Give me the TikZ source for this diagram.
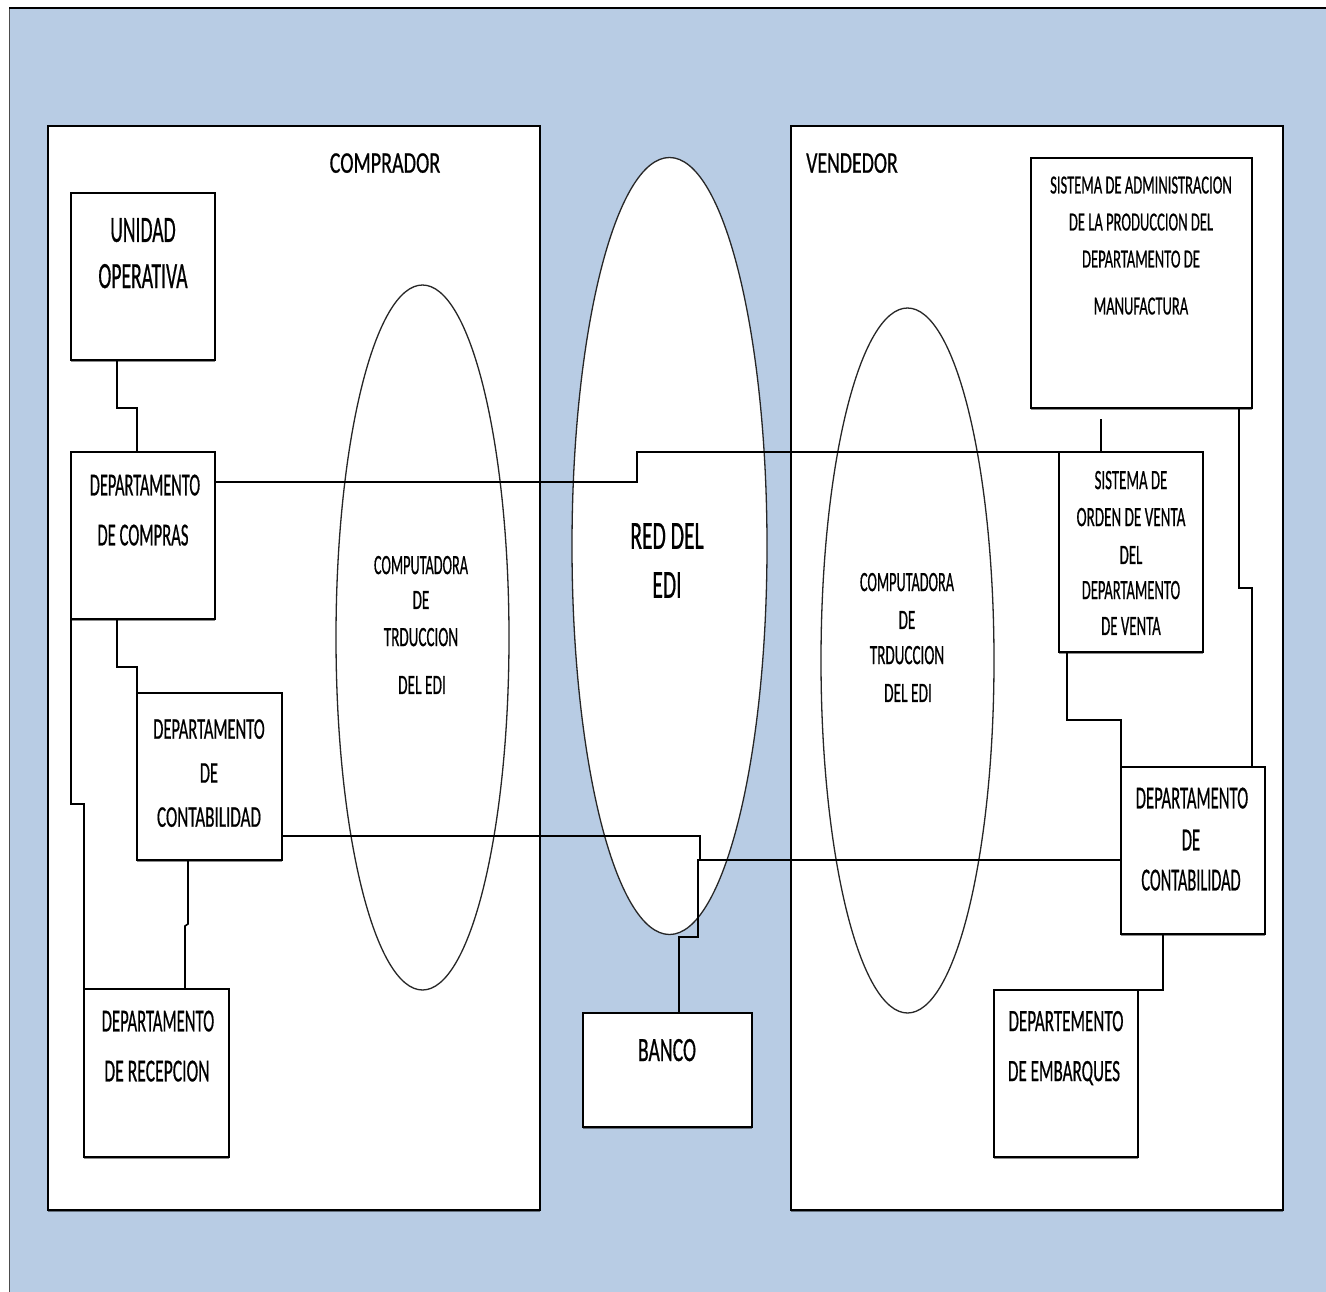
\documentclass[tikz,border=0pt]{standalone}
\usepackage{fontspec}
\setmainfont{Carlito}
\newfontfamily\lblfont{Carlito}[FakeBold=0.8]
\usepackage{graphicx}
\usetikzlibrary{shapes.geometric,calc,shadows}
\definecolor{bgblue}{RGB}{184,204,228}
\newcommand{\hsq}[2]{\scalebox{#1}[1]{#2}}
\begin{document}
\begin{tikzpicture}[x=1pt,y=-1pt,
  box/.style={draw=black,fill=white,line width=1.6pt,rectangle,inner sep=0pt,outer sep=0pt,anchor=north west,
    drop shadow={shadow xshift=0pt,shadow yshift=-2.2pt,opacity=0.45,fill=black}},
  oval/.style={draw=black!85,fill=white,line width=1.3pt,ellipse,inner sep=0pt,outer sep=0pt},
  conn/.style={draw=black,line width=1.6pt},
  lbl/.style={inner sep=0pt,outer sep=0pt,text depth=0pt,font=\lblfont\fontsize{#1pt}{#1pt}\selectfont}]
\useasboundingbox (0,0) rectangle (1326,1292);
% background
\fill[bgblue] (9,9) rectangle (1326,1292);
\draw[black!70,line width=1pt] (9,8) -- (9,1292);
\draw[black,line width=2.5pt] (9,8) -- (1326,8);
% outer panels
\node[box,minimum width=492pt,minimum height=1084pt] (comprador) at (48,126) {};
\node[box,minimum width=492pt,minimum height=1084pt] (vendedor) at (791,126) {};
% ellipses
\node[oval,minimum width=195pt,minimum height=777pt] (red) at (669.5,546) {};
\node[oval,minimum width=173pt,minimum height=705pt] (compL) at (422.5,637.5) {};
\node[oval,minimum width=173pt,minimum height=705pt] (compR) at (907.5,660.5) {};
% inner boxes
\node[box,minimum width=144pt,minimum height=167pt] (unidad) at (71,193) {};
\node[box,minimum width=144pt,minimum height=167pt] (compras) at (71,452) {};
\node[box,minimum width=145pt,minimum height=167pt] (contC) at (137,693) {};
\node[box,minimum width=145pt,minimum height=168pt] (recep) at (84,989) {};
\node[box,minimum width=169pt,minimum height=114pt] (banco) at (583,1013) {};
\node[box,minimum width=221pt,minimum height=250pt] (manuf) at (1031,158) {};
\node[box,minimum width=144pt,minimum height=200pt] (orden) at (1059,452) {};
\node[box,minimum width=144pt,minimum height=167pt] (contV) at (1121,767) {};
\node[box,minimum width=144pt,minimum height=167pt] (embarq) at (994,990) {};
% connectors
\draw[conn] ($(unidad.south west)+(46,0)$) -- ++(0,48) -| ($(compras.north west)+(66,0)$);
\draw[conn] ($(compras.south west)+(46,0)$) -- ++(0,48) -| (contC.north west);
\draw[conn] (compras.south west) -- ++(0,185) -| (recep.north west);
\draw[conn] ($(contC.south west)+(51,0)$) -- ++(0,64) -- ++(-3,2) -- ($(recep.north west)+(101,0)$);
\draw[conn] ($(compras.north east)+(0,30)$) -- ++(422,0) |- (orden.north west);
\draw[conn] ($(manuf.south west)+(70,11)$) -- ($(orden.north west)+(42,0)$);
\draw[conn] ($(manuf.south east)+(-13,0)$) -- ++(0,180) -| ($(contV.north east)+(-13,0)$);
\draw[conn] ($(orden.south west)+(8,0)$) -- ++(0,68) -| (contV.north west);
\draw[conn] ($(contC.south east)+(0,-24)$) -- ++(418,0) -- ++(0,24);
\draw[conn] ($(contV.north west)+(0,93)$) -- ++(-423,0) -- ++(0,77) -| ($(banco.north west)+(96,0)$);
\draw[conn] ($(contV.south west)+(42,0)$) |- (embarq.north east);
% labels
\node[lbl=30] (tComprador) at (385,163) {\hsq{0.67}{COMPRADOR}};
\node[lbl=30] (tVendedor) at (852,163) {\hsq{0.66}{VENDEDOR}};
\node[lbl=37] (tU1) at (143,230) {\hsq{0.53}{UNIDAD}};
\node[lbl=37] (tU2) at (143,276) {\hsq{0.53}{OPERATIVA}};
\node[lbl=32] (tC1) at (145,485) {\hsq{0.51}{DEPARTAMENTO}};
\node[lbl=32] (tC2) at (143,535) {\hsq{0.52}{DE COMPRAS}};
\node[lbl=30] (tK1) at (209,729) {\hsq{0.55}{DEPARTAMENTO}};
\node[lbl=30] (tK2) at (209,773) {\hsq{0.55}{DE}};
\node[lbl=30] (tK3) at (209,817) {\hsq{0.57}{CONTABILIDAD}};
\node[lbl=32] (tR1) at (158,1021) {\hsq{0.52}{DEPARTAMENTO}};
\node[lbl=32] (tR2) at (157,1071) {\hsq{0.55}{DE RECEPCION}};
\node[lbl=34] (tB) at (667,1050) {\hsq{0.58}{BANCO}};
\node[lbl=40] (tE1) at (667,536) {\hsq{0.54}{RED DEL}};
\node[lbl=40] (tE2) at (667,585) {\hsq{0.54}{EDI}};
\node[lbl=28] (tL1) at (421,565) {\hsq{0.51}{COMPUTADORA}};
\node[lbl=28] (tL2) at (421,600) {\hsq{0.54}{DE}};
\node[lbl=28] (tL3) at (421,637) {\hsq{0.54}{TRDUCCION}};
\node[lbl=28] (tL4) at (422,685) {\hsq{0.55}{DEL EDI}};
\node[lbl=28] (tR1b) at (907,582) {\hsq{0.51}{COMPUTADORA}};
\node[lbl=28] (tR2b) at (907,620) {\hsq{0.54}{DE}};
\node[lbl=28] (tR3b) at (907,655) {\hsq{0.54}{TRDUCCION}};
\node[lbl=28] (tR4b) at (908,693) {\hsq{0.55}{DEL EDI}};
\node[lbl=26] (tM1) at (1141,185) {\hsq{0.56}{SISTEMA DE ADMINISTRACION}};
\node[lbl=26] (tM2) at (1141,222) {\hsq{0.56}{DE LA PRODUCCION DEL}};
\node[lbl=26] (tM3) at (1141,259) {\hsq{0.56}{DEPARTAMENTO DE}};
\node[lbl=26] (tM4) at (1141,306) {\hsq{0.56}{MANUFACTURA}};
\node[lbl=28] (tO1) at (1131,480) {\hsq{0.53}{SISTEMA DE}};
\node[lbl=28] (tO2) at (1131,517) {\hsq{0.54}{ORDEN DE VENTA}};
\node[lbl=28] (tO3) at (1131,555) {\hsq{0.53}{DEL}};
\node[lbl=28] (tO4) at (1131,590) {\hsq{0.52}{DEPARTAMENTO}};
\node[lbl=28] (tO5) at (1131,626) {\hsq{0.53}{DE VENTA}};
\node[lbl=32] (tV1) at (1192,798) {\hsq{0.52}{DEPARTAMENTO}};
\node[lbl=32] (tV2) at (1191,840) {\hsq{0.52}{DE}};
\node[lbl=32] (tV3) at (1191,880) {\hsq{0.51}{CONTABILIDAD}};
\node[lbl=31] (tS1) at (1066,1021) {\hsq{0.55}{DEPARTEMENTO}};
\node[lbl=31] (tS2) at (1064,1071) {\hsq{0.55}{DE EMBARQUES}};
\end{tikzpicture}
\end{document}
